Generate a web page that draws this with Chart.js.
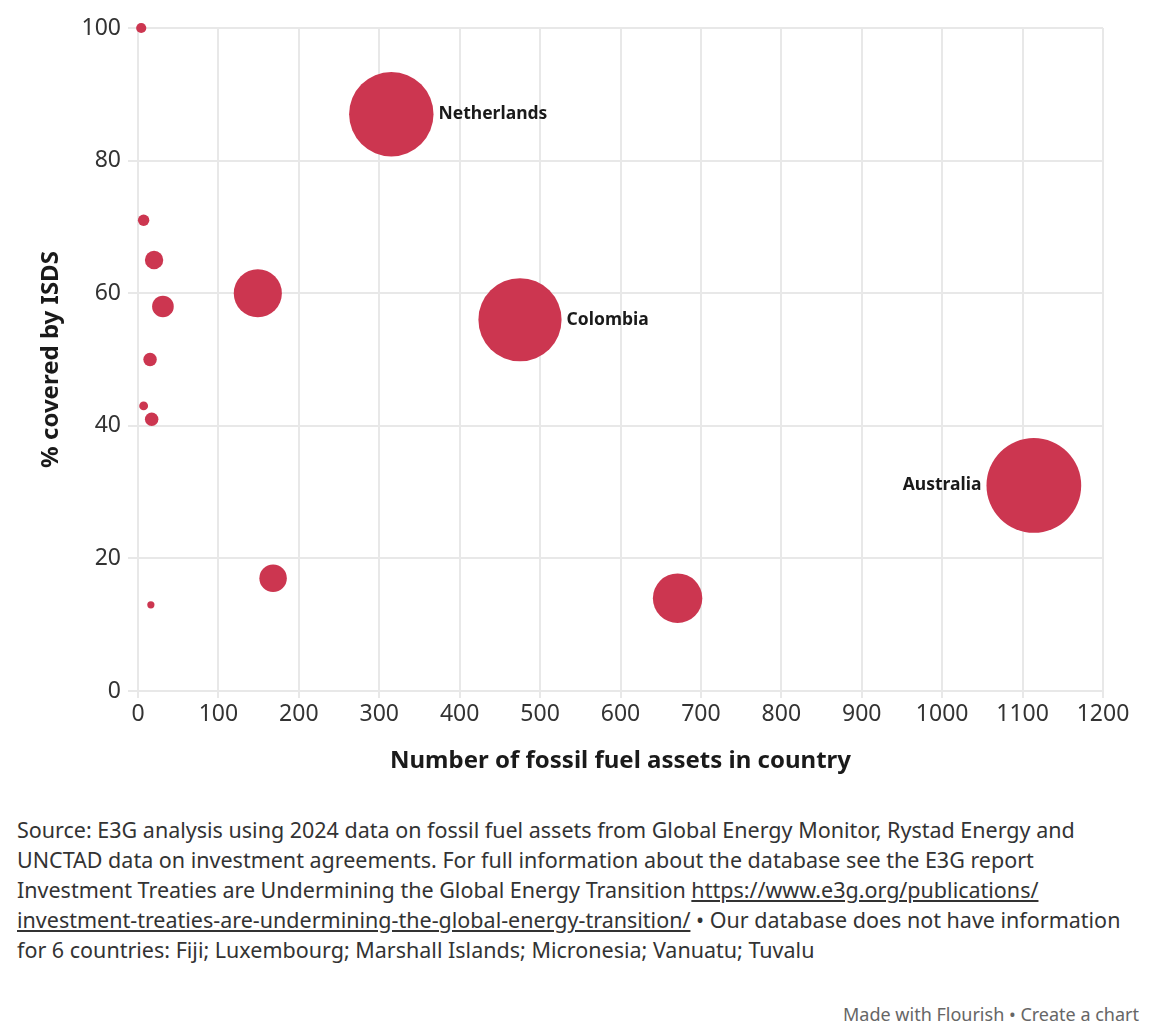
<!DOCTYPE html>
<html>
<head>
<meta charset="utf-8">
<script src="https://cdn.jsdelivr.net/npm/chart.js@4.4.1/dist/chart.umd.min.js"></script>
<style>
    body { margin: 0; background: #fff; font-family: "Noto Sans", sans-serif; }
    #wrap { position: relative; width: 1158px; height: 790px; }
    #footer {
        position: absolute; left: 17px; top: 815px; width: 1130px;
        font-family: "Noto Sans", sans-serif; font-size: 21.5px; line-height: 30px; color: #333;
        white-space: nowrap;
    }
    #footer a { color: #333; text-decoration: underline; }
    #credit {
        position: absolute; right: 19px; top: 1002px;
        font-family: "Noto Sans", sans-serif; font-size: 18px; color: #666;
    }
</style>
</head>
<body>
<div id="wrap"><canvas id="bubbleChart"></canvas></div>
<div id="footer">
    Source: E3G analysis using 2024 data on fossil fuel assets from Global Energy Monitor, Rystad Energy and<br>
    UNCTAD data on investment agreements. For full information about the database see the E3G report<br>
    Investment Treaties are Undermining the Global Energy Transition <a href="#">https://www.e3g.org/publications/</a><br>
    <a href="#">investment-treaties-are-undermining-the-global-energy-transition/</a> • Our database does not have information<br>
    for 6 countries: Fiji; Luxembourg; Marshall Islands; Micronesia; Vanuatu; Tuvalu
</div>
<div id="credit">Made with Flourish • Create a chart</div>
<script>
// Data
const countries = ['', 'Netherlands', '', '', '', '', 'Colombia', '', '', '', 'Australia', '', '', ''];
const fossilAssets = [4, 315, 7, 20, 31, 149, 475, 15, 7, 17, 1114, 168, 16, 671];
const pctCovered = [100, 87, 71, 65, 58, 60, 56, 50, 43, 41, 31, 17, 13, 14];
const assetsCovered = [4, 274, 5, 13, 18, 89, 266, 7, 3, 7, 345, 29, 2, 94];
const xTicks = [0, 100, 200, 300, 400, 500, 600, 700, 800, 900, 1000, 1100, 1200];
const yTicks = [0, 20, 40, 60, 80, 100];

// Label di samping bubble: kanan atau kiri
const labelSide = { 'Netherlands': 'right', 'Colombia': 'right', 'Australia': 'left' };

const points = fossilAssets.map((x, i) => ({ x: x, y: pctCovered[i], v: assetsCovered[i], name: countries[i] }));

const bubbleLabels = {
    id: 'bubbleLabels',
    afterDatasetsDraw(chart) {
        const ctx = chart.ctx;
        const meta = chart.getDatasetMeta(0);
        ctx.save();
        ctx.font = 'bold 17.5px "Noto Sans", sans-serif';
        ctx.fillStyle = '#1a1a1a';
        ctx.textBaseline = 'middle';
        meta.data.forEach((el, i) => {
            const name = points[i].name;
            if (!name) return;
            const r = el.options.radius;
            if (labelSide[name] === 'left') {
                ctx.textAlign = 'right';
                ctx.fillText(name, el.x - r - 5, el.y);
            } else {
                ctx.textAlign = 'left';
                ctx.fillText(name, el.x + r + 5, el.y);
            }
        });
        ctx.restore();
    }
};

const tickFont = { family: '"Noto Sans", sans-serif', size: 23 };
const titleFont = { family: '"Noto Sans", sans-serif', size: 24, weight: 'bold' };

new Chart(document.getElementById('bubbleChart'), {
    type: 'bubble',
    data: {
        datasets: [{
            data: points,
            backgroundColor: '#cc3650',
            borderColor: '#cc3650',
            borderWidth: 0,
            radius: (c) => 2.55 * Math.sqrt(c.raw.v),
            hoverRadius: 0,
            clip: false
        }]
    },
    options: {
        responsive: true,
        maintainAspectRatio: false,
        animation: false,
        layout: { autoPadding: false, padding: { top: 28, right: 55, bottom: 0, left: 0 } },
        plugins: { legend: { display: false }, tooltip: { enabled: false } },
        scales: {
            x: {
                type: 'linear',
                min: 0, max: 1200,
                afterBuildTicks: (s) => { s.ticks = xTicks.map(v => ({ value: v })); },
                afterFit: (s) => { s.height = 99; },
                ticks: { font: tickFont, color: '#333', padding: 3, maxRotation: 0, callback: (v) => String(v) },
                grid: { color: '#e8e8e8', lineWidth: 2, tickLength: 7 },
                border: { display: false },
                title: { display: true, text: 'Number of fossil fuel assets in country', font: titleFont, color: '#1a1a1a', padding: { top: 4, bottom: 14 } }
            },
            y: {
                min: 0, max: 100,
                afterBuildTicks: (s) => { s.ticks = yTicks.map(v => ({ value: v })); },
                afterFit: (s) => { s.width = 138; },
                ticks: { font: tickFont, color: '#333', padding: 7 },
                grid: { color: '#e8e8e8', lineWidth: 2, tickLength: 10 },
                border: { display: false },
                title: { display: true, text: '% covered by ISDS', font: titleFont, color: '#1a1a1a', padding: { top: 37, bottom: 4 } }
            }
        }
    },
    plugins: [bubbleLabels]
});
</script>
</body>
</html>
